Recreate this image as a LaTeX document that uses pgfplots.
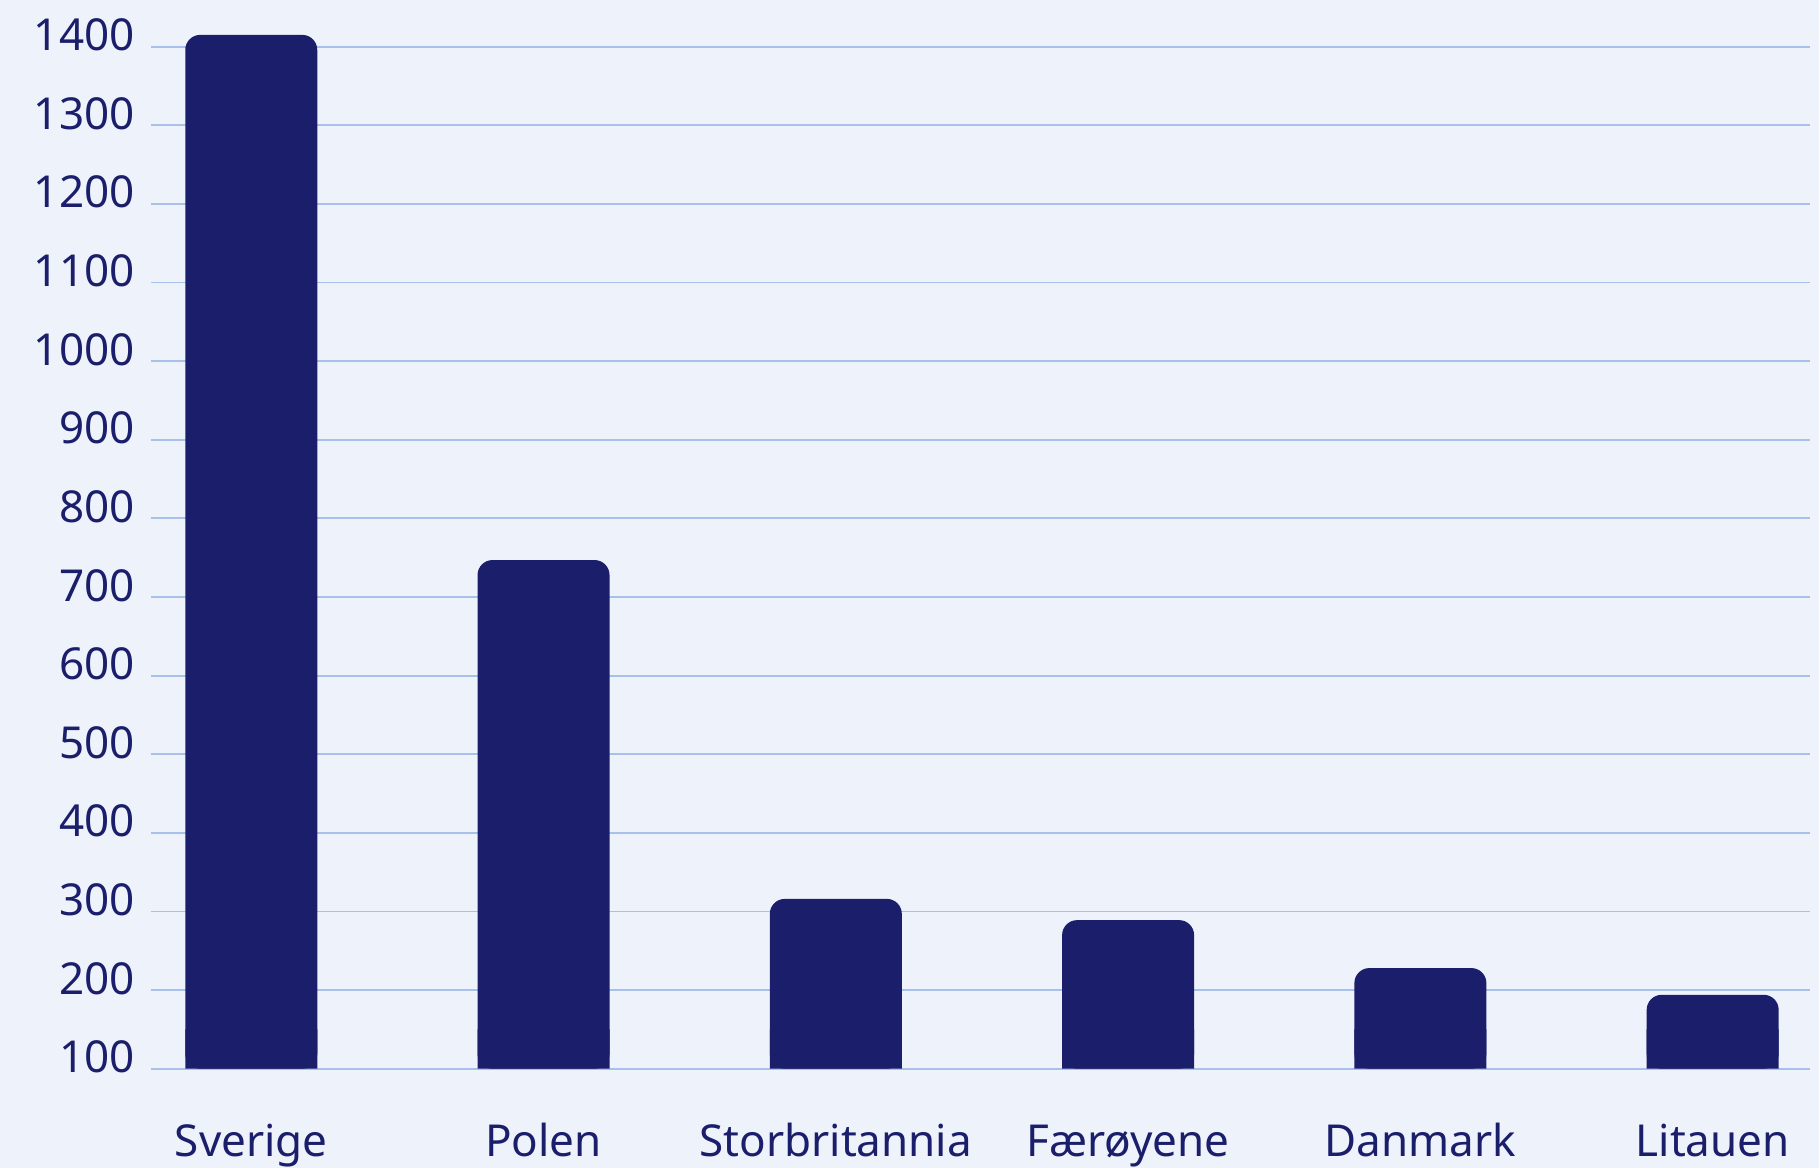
\documentclass[border=0pt]{standalone}
\usepackage{pgfplots}
\usepackage{pgfplotstable}
\pgfplotsset{compat=1.18}
\usepackage{fontspec}
\setmainfont{Noto Sans}
\definecolor{barcol}{RGB}{27,31,107}
\definecolor{bgcol}{RGB}{238,242,251}
\definecolor{gridcol}{RGB}{168,192,236}
\pgfplotstableread{
x y
0 1415
1 747
2 316
3 289
4 228
5 194
}\bardata
\begin{document}
\begin{tikzpicture}
\fill[bgcol] (0,0) rectangle (909.5pt,584pt);
\useasboundingbox (0,0) rectangle (909.5pt,584pt);
\begin{axis}[
  at={(75.5pt,49.65pt)}, anchor=south west,
  scale only axis, width=829.5pt, height=522.8pt,
  xmin=-0.343, xmax=5.333,
  ymin=100, ymax=1430,
  axis line style={draw=none},
  major tick length=0pt,
  ytick={100,200,...,1400},
  ymajorgrids,
  grid style={gridcol, line width=0.9pt},
  xtick={0,...,5},
  xticklabels={Sverige,Polen,Storbritannia,Færøyene,Danmark,Litauen},
  ticklabel style={font=\fontsize{22}{27}\selectfont, text=barcol},
  yticklabel style={anchor=base east, inner sep=0pt, xshift=-8pt, yshift=-2pt},
  xticklabel style={anchor=base, inner sep=0pt, yshift=-44pt},
  /pgf/number format/assume math mode=true,
  /pgf/number format/set thousands separator={},
  clip=true,
]
% rounded tops
\addplot[ybar, bar width=66pt, bar shift=0pt, fill=barcol, draw=none, rounded corners=7.5pt]
  table[x=x, y=y] {\bardata};
% square feet of the same bars
\addplot[ybar, bar width=66pt, bar shift=0pt, fill=barcol, draw=none,
  y filter/.expression={min(y,150)}]
  table[x=x, y=y] {\bardata};
\end{axis}
\end{tikzpicture}
\end{document}
